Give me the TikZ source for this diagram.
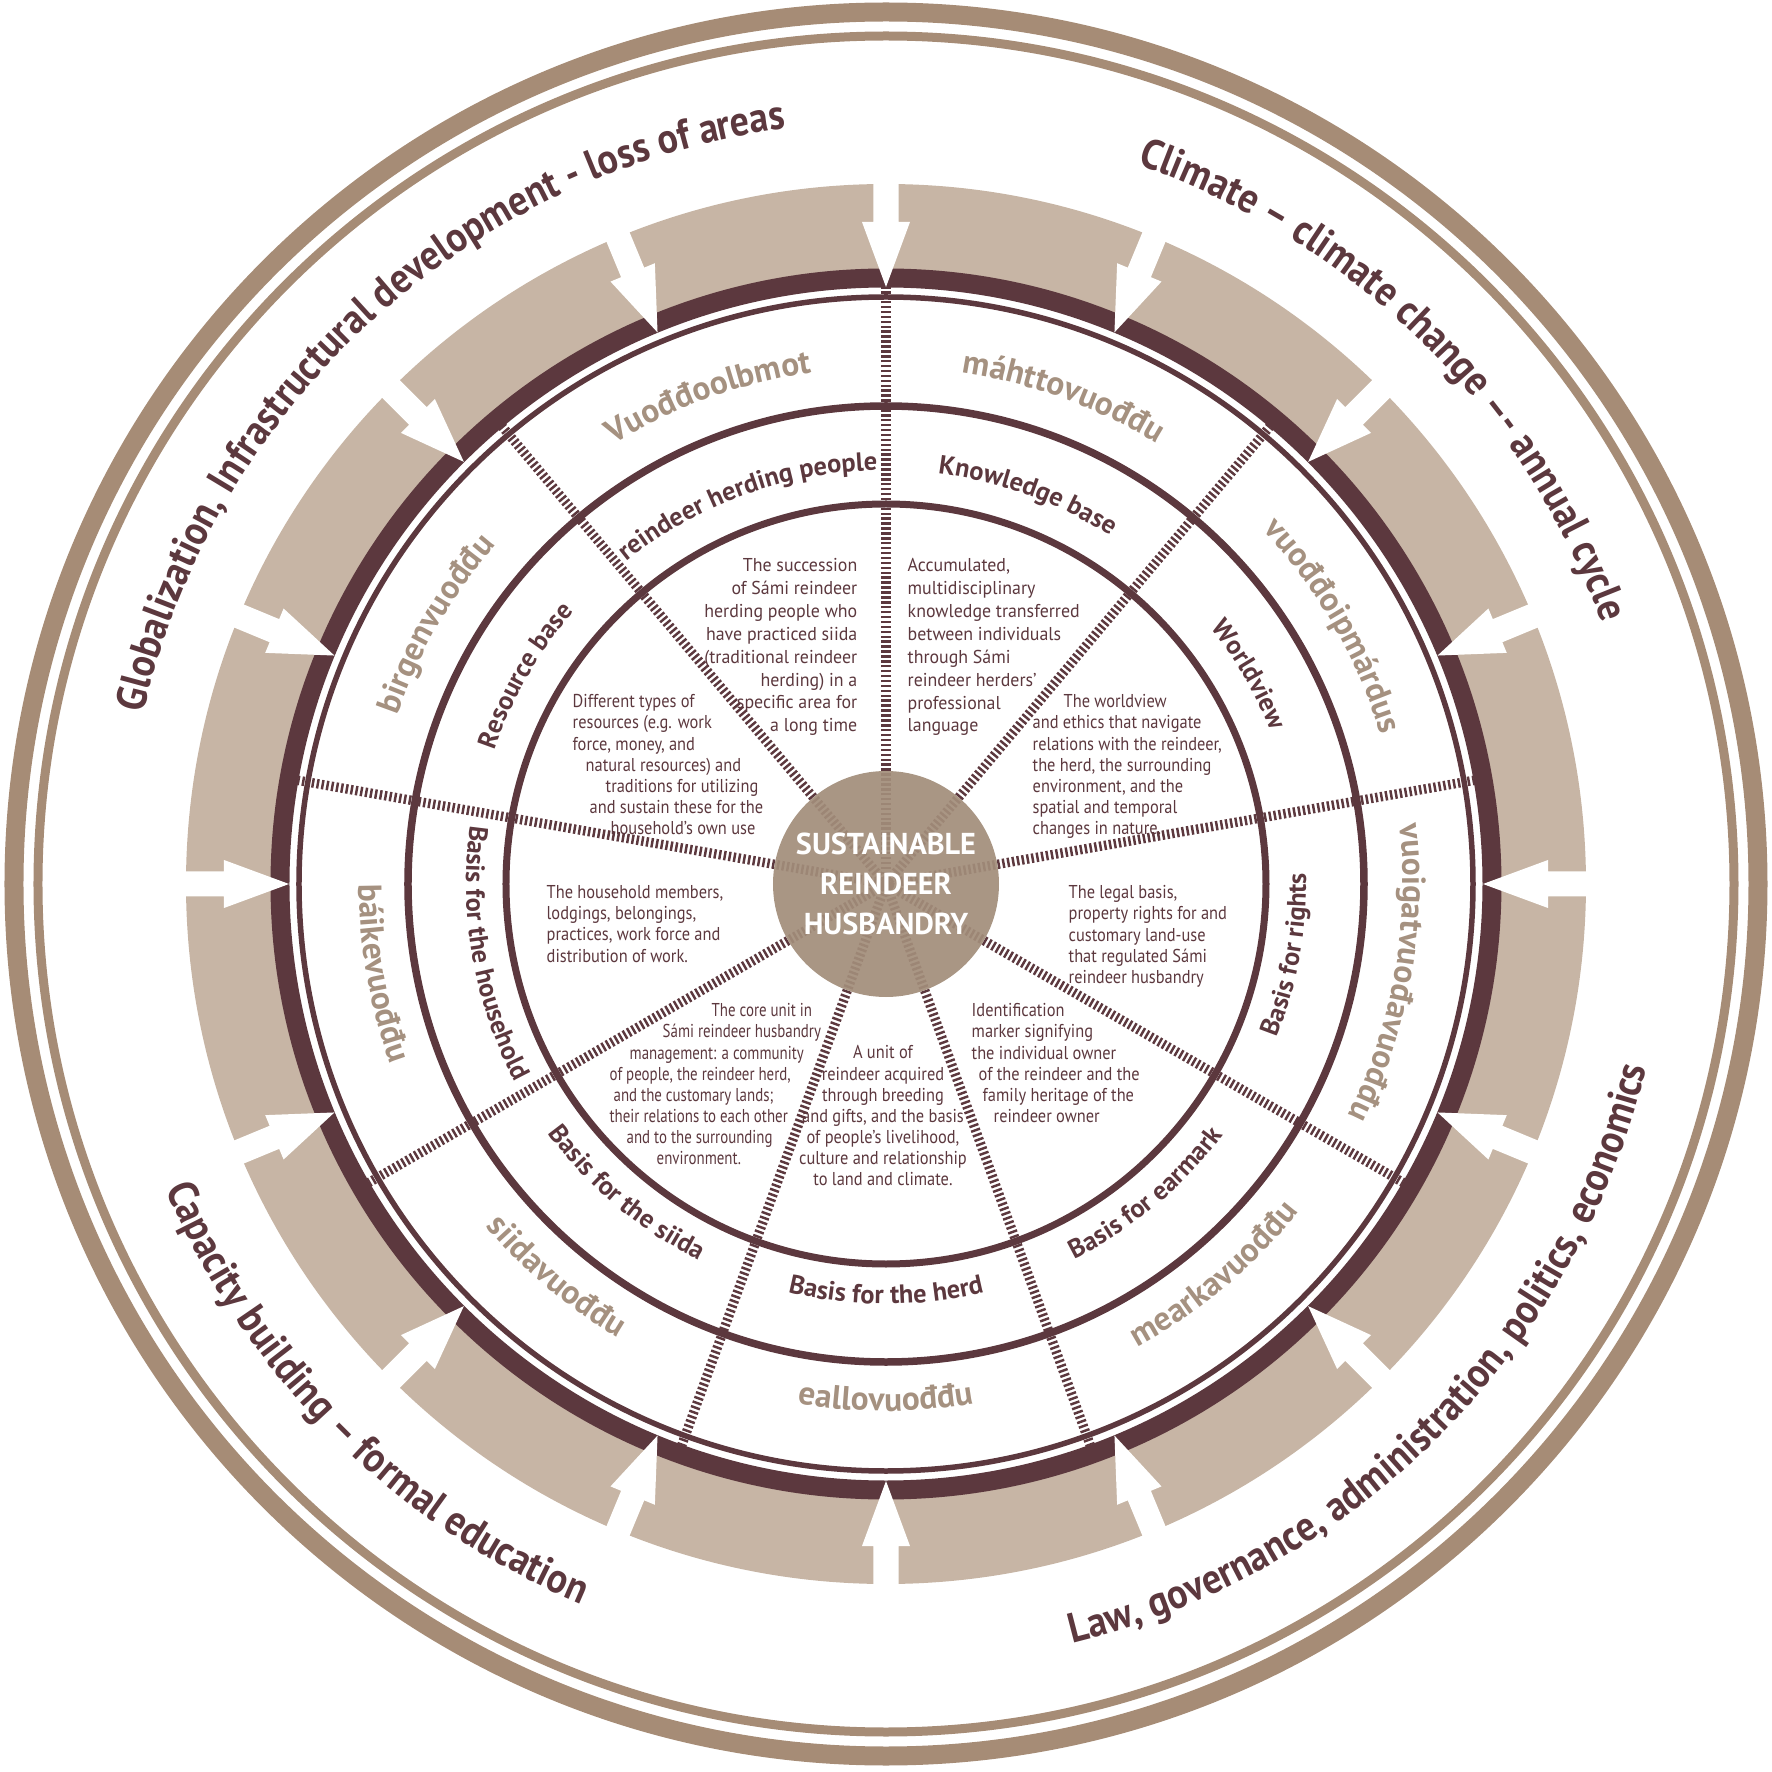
\documentclass[tikz,border=0pt]{standalone}
\usepackage{fontspec}
\setmainfont{PT Sans}
\newfontfamily\outerfam[FakeStretch=0.9]{PT Sans}
\newfontfamily\topfont[FakeStretch=0.96]{PT Sans}
\newfontfamily\descfont[FakeStretch=0.88]{PT Sans}
\newfontfamily\narrowfont[FakeStretch=0.8]{PT Sans}
\usetikzlibrary{decorations.text}

\definecolor{maroon}{RGB}{92,56,62}
\definecolor{blocktan}{RGB}{199,181,165}
\definecolor{ringtan}{RGB}{166,140,118}
\definecolor{samitan}{RGB}{165,145,128}
\definecolor{coretan}{RGB}{162,141,122}

\newcommand{\outerfont}{\outerfam\bfseries\fontsize{12}{14}\selectfont}
\newcommand{\samifont}{\bfseries\fontsize{9.5}{11}\selectfont}
\newcommand{\engfont}{\bfseries\fontsize{7.5}{9}\selectfont}

\begin{document}
\begin{tikzpicture}
      \tikzstyle{desc}=[inner sep=0pt, text=maroon, font=\descfont\fontsize{5.3}{6.0}\selectfont]
      \tikzstyle{topdesc}=[desc, font=\topfont\fontsize{5.3}{6.5}\selectfont]
      \tikzstyle{centre}=[circle, fill=coretan, fill opacity=0.92, text opacity=1, minimum size=2.26cm, inner sep=0pt, text=white, align=center, font=\bfseries\fontsize{8.6}{11.4}\selectfont]
      \tikzstyle{hatch}=[draw=maroon, line width=2.7pt, dash pattern=on 0.7pt off 0.7pt]
      \tikzstyle{arctext}=[decorate, decoration={text along path, text align=center}]
      \tikzstyle{samitext}=[arctext, decoration={text color=samitan}]
      \tikzstyle{engtext}=[arctext, decoration={text color=maroon}]

      \useasboundingbox (-8.86,-8.88) rectangle (8.86,8.84);

      % outer double ring
      \draw[ringtan, line width=0.19cm] (0,0) circle (8.72);
      \draw[ringtan, line width=0.09cm] (0,0) circle (8.48);

      % band of blocks, dark ring and the arrows
      \draw[blocktan, line width=0.9cm] (0,0) circle (6.55);
      \draw[maroon, line width=0.19cm] (0,0) circle (6.06);
      \foreach \a in {0,22.5,...,337.5}
        \fill[white, rotate=\a] (7.1,0.125) -- (6.62,0.125) -- (6.62,0.24) -- (5.97,0) -- (6.62,-0.24) -- (6.62,-0.125) -- (7.1,-0.125) -- cycle;

      % sector lines and rings
      \foreach \a in {10,50,...,330}
        \draw[hatch] (0,0) -- (\a:5.97);
      \draw[maroon, line width=0.055cm] (0,0) circle (5.87);
      \draw[maroon, line width=0.075cm] (0,0) circle (4.78);
      \draw[maroon, line width=0.07cm] (0,0) circle (3.80);

      % outer labels
      \path[engtext, decoration={text={|\outerfont|Globalization, Infrastructural development - loss of areas}}] (192.3:7.62) arc[start angle=192.3, end angle=72.3, radius=7.62];
      \path[engtext, decoration={text={|\outerfont|Climate – climate change –- annual cycle}}] (105.4:7.62) arc[start angle=105.4, end angle=-14.6, radius=7.62];
      \path[engtext, decoration={text={|\outerfont|Law, governance, administration, politics, economics}}] (-104.9:7.82) arc[start angle=-104.9, end angle=15.1, radius=7.82];
      \path[engtext, decoration={text={|\outerfont|Capacity building – formal education}}] (165:7.82) arc[start angle=165, end angle=285, radius=7.82];

      % Sami labels
      \path[samitext, decoration={text={|\samifont|Vuođđoolbmot}}] (150:5.17) arc[start angle=150, end angle=70, radius=5.17];
      \path[samitext, decoration={text={|\samifont|máhttovuođđu}}] (110:5.17) arc[start angle=110, end angle=30, radius=5.17];
      \path[samitext, decoration={text={|\samifont|vuođđoipmárdus}}] (70:5.17) arc[start angle=70, end angle=-10, radius=5.17];
      \path[samitext, decoration={text={|\samifont|vuoigatvuođavuođđu}}] (30:5.17) arc[start angle=30, end angle=-50, radius=5.17];
      \path[samitext, decoration={text={|\samifont|mearkavuođđu}}] (-90:5.27) arc[start angle=-90, end angle=-10, radius=5.27];
      \path[samitext, decoration={text={|\samifont|eallovuođđu}}] (-130:5.27) arc[start angle=-130, end angle=-50, radius=5.27];
      \path[samitext, decoration={text={|\samifont|siidavuođđu}}] (-170:5.27) arc[start angle=-170, end angle=-90, radius=5.27];
      \path[samitext, decoration={text={|\samifont|báikevuođđu}}] (150:5.27) arc[start angle=150, end angle=230, radius=5.27];
      \path[samitext, decoration={text={|\samifont|birgenvuođđu}}] (190:5.17) arc[start angle=190, end angle=110, radius=5.17];

      % English labels
      \path[engtext, decoration={text={|\engfont|reindeer herding people}}] (150:4.14) arc[start angle=150, end angle=70, radius=4.14];
      \path[engtext, decoration={text={|\engfont|Knowledge base}}] (110:4.14) arc[start angle=110, end angle=30, radius=4.14];
      \path[engtext, decoration={text={|\engfont|Worldview}}] (70:4.14) arc[start angle=70, end angle=-10, radius=4.14];
      \path[engtext, decoration={text={|\engfont|Basis for rights}}] (-50:4.2) arc[start angle=-50, end angle=30, radius=4.2];
      \path[engtext, decoration={text={|\engfont|Basis for earmark}}] (-90:4.2) arc[start angle=-90, end angle=-10, radius=4.2];
      \path[engtext, decoration={text={|\engfont|Basis for the herd}}] (-130:4.2) arc[start angle=-130, end angle=-50, radius=4.2];
      \path[engtext, decoration={text={|\engfont|Basis for the siida}}] (-170:4.2) arc[start angle=-170, end angle=-90, radius=4.2];
      \path[engtext, decoration={text={|\engfont|Basis for the household}}] (150:4.2) arc[start angle=150, end angle=230, radius=4.2];
      \path[engtext, decoration={text={|\engfont|Resource base}}] (190:4.14) arc[start angle=190, end angle=110, radius=4.14];

      % descriptions
      \node[topdesc, align=right, anchor=north east] (succession) at (-0.28,3.26) {The succession\\of Sámi reindeer\\herding people who\\have practiced siida\\(traditional reindeer\\herding) in a\\specific area for\\a long time};
      \node[topdesc, align=left, anchor=north west] (knowledge) at (0.21,3.26) {Accumulated,\\multidisciplinary\\knowledge transferred\\between individuals\\through Sámi\\reindeer herders’\\professional\\language};
      \node[desc, align=left, anchor=north west] (worldview) at (1.46,1.90) {\hspace*{0.31cm}The worldview\\and ethics that navigate\\relations with the reindeer,\\the herd, the surrounding\\environment, and the\\spatial and temporal\\changes in nature.};
      \node[desc, align=left, anchor=north west] (resources) at (-3.14,1.90) {Different types of\\resources (e.g. work\\force, money, and\\\hspace*{0.13cm}natural resources) and\\\hspace*{0.33cm}traditions for utilizing\\\hspace*{0.17cm}and sustain these for the\\\hspace*{0.38cm}household’s own use};
      \node[desc, align=left, anchor=north west] (household) at (-3.40,-0.01) {The household members,\\lodgings, belongings,\\practices, work force and\\distribution of work.};
      \node[desc, align=left, anchor=north west] (legal) at (1.82,-0.01) {The legal basis,\\property rights for and\\customary land-use\\that regulated Sámi\\reindeer husbandry};
      \node[desc, font=\narrowfont\fontsize{5.3}{6.0}\selectfont, align=left, anchor=north west] (coreunit) at (-2.77,-1.19) {\hspace*{1.02cm}The core unit in\\\hspace*{0.53cm}Sámi reindeer husbandry\\\hspace*{0.2cm}management: a community\\of people, the reindeer herd,\\\hspace*{0.04cm}and the customary lands;\\their relations to each other\\\hspace*{0.17cm}and to the surrounding\\\hspace*{0.47cm}environment.};
      \node[desc, align=center, anchor=north] (herdunit) at (-0.03,-1.61) {A unit of\\reindeer acquired\\through breeding\\and gifts, and the basis\\of people’s livelihood,\\culture and relationship\\to land and climate.};
      \node[desc, align=left, anchor=north west] (earmark) at (0.85,-1.19) {Identification\\marker signifying\\the individual owner\\\hspace*{0.07cm}of the reindeer and the\\\hspace*{0.11cm}family heritage of the\\\hspace*{0.22cm}reindeer owner};

      % centre
      \node[centre] (core) at (0,0) {SUSTAINABLE\\REINDEER\\HUSBANDRY};

    \end{tikzpicture}
\end{document}
